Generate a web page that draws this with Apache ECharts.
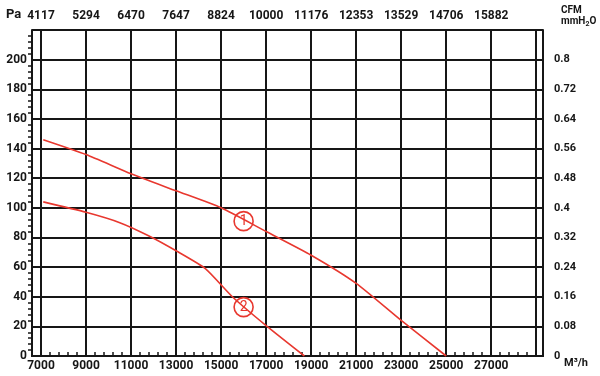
<!DOCTYPE html>
<html>
<head>
<meta charset="utf-8">
<script src="https://cdn.jsdelivr.net/npm/echarts@6/dist/echarts.min.js"></script>
<style>
  html, body { margin: 0; padding: 0; background: #fff; }
  #main { width: 600px; height: 376px; }
</style>
</head>
<body>
<div id="main"></div>
<script>
// m3/h tick values (bottom) and matching CFM labels (top)
const flowTicks = [7000, 9000, 11000, 13000, 15000, 17000, 19000, 21000, 23000, 25000, 27000];
const gridTicks = [7000, 9000, 11000, 13000, 15000, 17000, 19000, 21000, 23000, 25000, 27000, 29000];
const cfmLabels = ['4117', '5294', '6470', '7647', '8824', '10000', '11176', '12353', '13529', '14706', '15882'];
const paLabels = ['0', '20', '40', '60', '80', '100', '120', '140', '160', '180', '200'];
const mmLabels = ['0', '0.08', '0.16', '0.24', '0.32', '0.4', '0.48', '0.56', '0.64', '0.72', '0.8'];

// curve 1 and curve 2: [m3/h, Pa]
const curve1 = [[7100, 146], [9000, 136], [11000, 123], [13000, 111.5], [15000, 100], [17000, 84], [19000, 68], [21000, 49], [23000, 24], [25000, 0]];
const curve2 = [[7100, 104], [9000, 97], [10500, 90], [11800, 81], [13000, 71], [14300, 59], [15500, 40], [17000, 20.5], [18700, 0]];
// where the numbered circles sit
const markers = [{ name: '1', at: [16000, 91] }, { name: '2', at: [16000, 33] }];

// minor ticks along the bottom, every 400
const minorTicks = [];
for (let v = 7400; v <= 28600; v += 400) minorTicks.push(v);

const font = "Roboto, 'Liberation Sans', sans-serif";
const ink = '#161616';
const red = '#e8382f';

const myChart = echarts.init(document.getElementById('main'));

const markerPoint = (m) => ({
    coord: m.at,
    symbol: 'circle',
    symbolSize: 19,
    itemStyle: { color: '#fff', borderColor: red, borderWidth: 1.6 },
    label: { show: true, formatter: m.name, color: red, fontSize: 14, fontFamily: font, position: 'inside' }
});

const tickText = { color: ink, fontSize: 12, fontWeight: 'bold', fontFamily: font };

const option = {
    animation: false,
    backgroundColor: '#fff',
    grid: { left: 32, right: 57, top: 30, bottom: 20 },
    xAxis: [
        {
            type: 'value', position: 'bottom', min: 6600, max: 29300,
            axisLine: { show: true, lineStyle: { color: ink, width: 2 } },
            axisTick: { show: true, inside: true, length: 4, customValues: minorTicks, lineStyle: { color: ink, width: 1.5 } },
            axisLabel: { ...tickText, customValues: flowTicks, margin: 4, formatter: (v) => String(v) },
            splitLine: { show: false }
        },
        {
            type: 'value', position: 'top', min: 6600, max: 29300,
            axisLine: { show: true, lineStyle: { color: ink, width: 2 } },
            axisTick: { show: false, customValues: gridTicks },
            axisLabel: {
                ...tickText, customValues: flowTicks, margin: 8,
                formatter: (v) => cfmLabels[Math.round((v - 7000) / 2000)] || ''
            },
            splitLine: { show: true, lineStyle: { color: ink, width: 2 } }
        }
    ],
    yAxis: [
        {
            type: 'value', position: 'left', min: 0, max: 220, interval: 20,
            axisLine: { show: true, lineStyle: { color: ink, width: 2 } },
            axisTick: { show: false },
            minorTick: { show: true, splitNumber: 5, length: 4, lineStyle: { color: ink, width: 1.5 } },
            axisLabel: {
                ...tickText, margin: 5,
                formatter: (v) => paLabels[Math.round(v / 20)] || ''
            },
            splitLine: { show: true, lineStyle: { color: ink, width: 2 } }
        },
        {
            type: 'value', position: 'right', min: 0, max: 0.88, interval: 0.08,
            axisLine: { show: true, lineStyle: { color: ink, width: 2 } },
            axisTick: { show: false },
            axisLabel: {
                ...tickText, fontSize: 11, margin: 11,
                formatter: (v) => mmLabels[Math.round(v / 0.08)] || ''
            },
            splitLine: { show: false }
        }
    ],
    graphic: [
        { type: 'text', left: 6, top: 8, style: { text: 'Pa', font: "bold 13px " + font, fill: ink } },
        { type: 'text', left: 561, top: 5, style: { text: 'CFM', font: "bold 10px " + font, fill: ink } },
        {
            type: 'text', left: 561, top: 16,
            style: {
                text: 'mmH{s|2}O', font: "bold 10px " + font, fill: ink,
                rich: { s: { fontSize: 7, fontWeight: 'bold', fontFamily: font, padding: [7, 0, 0, 0] } }
            }
        },
        { type: 'text', left: 564, top: 358, style: { text: 'M³/h', font: "bold 11px " + font, fill: ink } }
    ],
    series: [
        {
            name: '1', type: 'line', xAxisIndex: 0, yAxisIndex: 0, data: curve1,
            symbol: 'none', smooth: 0.2, lineStyle: { color: red, width: 1.6 }, z: 5,
            markPoint: { data: [markerPoint(markers[0])] }
        },
        {
            name: '2', type: 'line', xAxisIndex: 0, yAxisIndex: 0, data: curve2,
            symbol: 'none', smooth: 0.2, lineStyle: { color: red, width: 1.6 }, z: 5,
            markPoint: { data: [markerPoint(markers[1])] }
        }
    ]
};
myChart.setOption(option);
</script>
</body>
</html>
